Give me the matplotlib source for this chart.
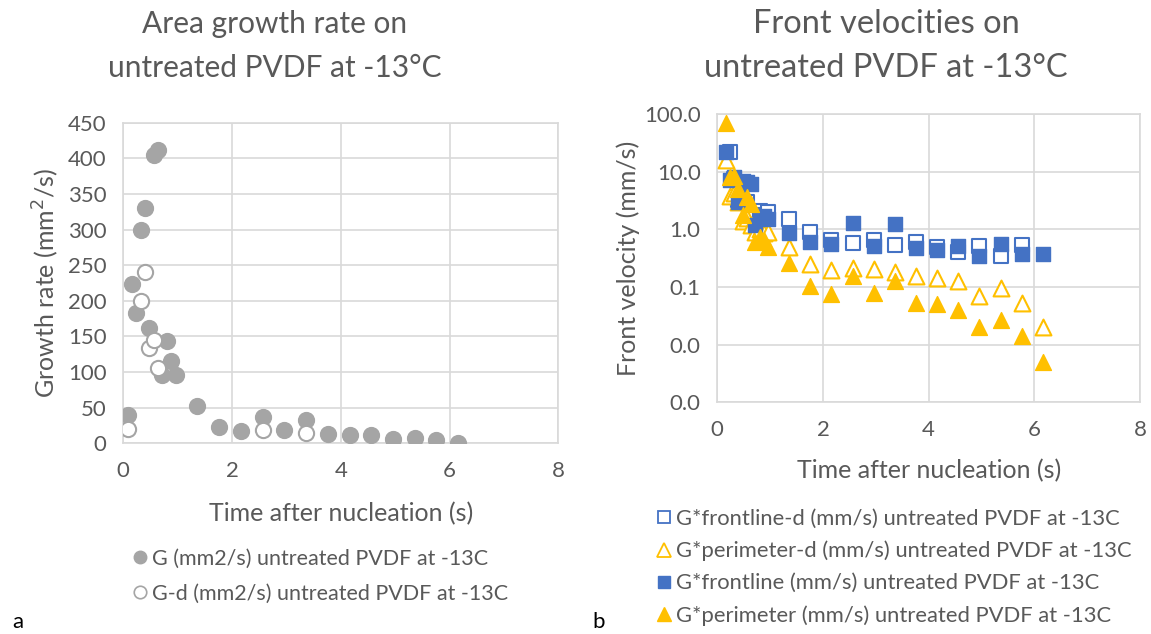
import matplotlib
matplotlib.use("Agg")
import matplotlib.pyplot as plt
from matplotlib.ticker import FixedLocator, FuncFormatter, NullLocator
from matplotlib.lines import Line2D

plt.rcParams['font.family'] = ['Lato', 'DejaVu Sans']

# ---------------- data: panel a ----------------
t_G = [0.08, 0.16, 0.24, 0.32, 0.40, 0.48, 0.56, 0.64, 0.72, 0.80, 0.88, 0.96,
       1.36, 1.76, 2.16, 2.56, 2.96, 3.36, 3.76, 4.16, 4.56, 4.96, 5.36, 5.76, 6.16]
G = [40, 224, 183, 300, 330, 162, 405, 412, 96, 143, 115, 96,
     52, 23, 17, 37, 18, 33, 13, 12, 11, 6, 7, 4, 1]
t_Gd = [0.08, 0.32, 0.40, 0.48, 0.56, 0.64, 2.56, 3.36]
Gd = [20, 200, 240, 134, 145, 105, 18, 15]

# ---------------- data: panel b ----------------
t_fd = [0.24, 0.32, 0.40, 0.48, 0.56, 0.64, 0.72, 0.80, 0.88, 0.96,
        1.36, 1.76, 2.16, 2.56, 2.96, 3.36, 3.76, 4.16, 4.56, 4.96, 5.36, 5.76]
front_d = [22, 7.5, 3.2, 6.0, 3.0, 2.0, 1.9, 2.1, 1.8, 2.0,
           1.5, 0.89, 0.64, 0.57, 0.65, 0.53, 0.61, 0.50, 0.41, 0.52, 0.34, 0.54]
t_pd = [0.16, 0.24, 0.32, 0.40, 0.48, 0.56, 0.64, 0.72, 0.80, 0.88, 0.96,
        1.36, 1.76, 2.16, 2.56, 2.96, 3.36, 3.76, 4.16, 4.56, 4.96, 5.36, 5.76, 6.16]
perim_d = [16, 3.8, 4.2, 3.0, 1.4, 1.6, 1.2, 0.9, 1.0, 0.85, 0.9,
           0.49, 0.25, 0.20, 0.21, 0.205, 0.185, 0.158, 0.145, 0.129, 0.071, 0.095, 0.052, 0.020]
t_f = [0.16, 0.24, 0.32, 0.40, 0.48, 0.56, 0.64, 0.72, 0.80, 0.88, 0.96,
       1.36, 1.76, 2.16, 2.56, 2.96, 3.36, 3.76, 4.16, 4.56, 4.96, 5.36, 5.76, 6.16]
front = [22, 7.2, 8.0, 3.0, 6.8, 6.5, 6.2, 1.2, 1.6, 1.7, 1.5,
         0.86, 0.61, 0.56, 1.31, 0.51, 1.25, 0.48, 0.43, 0.52, 0.34, 0.56, 0.37, 0.38]
t_p = [0.16, 0.24, 0.32, 0.40, 0.48, 0.56, 0.64, 0.72, 0.80, 0.88, 0.96,
       1.36, 1.76, 2.16, 2.56, 2.96, 3.36, 3.76, 4.16, 4.56, 4.96, 5.36, 5.76, 6.16]
perim = [70, 8.0, 8.5, 5.0, 1.8, 3.6, 2.8, 0.6, 0.75, 0.65, 0.5,
         0.265, 0.104, 0.076, 0.157, 0.078, 0.125, 0.052, 0.05, 0.040, 0.0205, 0.027, 0.014, 0.005]

ytick_a = [0, 50, 100, 150, 200, 250, 300, 350, 400, 450]
ytick_b = [0.001, 0.01, 0.1, 1, 10, 100]
xticks = [0, 2, 4, 6, 8]

GRAY = '#A5A5A5'
BLUE = '#4472C4'
GOLD = '#FFC000'
TXT = '#595959'
GRID = '#D9D9D9'

W, H = 1151, 634
fig = plt.figure(figsize=(W / 100, H / 100), dpi=100)


def frac(x0, y0, x1, y1):
    return [x0 / W, 1 - y1 / H, (x1 - x0) / W, (y1 - y0) / H]


def style(ax):
    for s in ax.spines.values():
        s.set_color(GRID)
        s.set_linewidth(1.2)
    ax.grid(True, color=GRID, linewidth=1.2)
    ax.set_axisbelow(True)
    ax.tick_params(length=0, labelsize=16, colors=TXT)
    ax.tick_params(axis='x', pad=13)
    ax.tick_params(axis='y', pad=12)


def labels(ax, xl, yl, xlab_y, ylab_x):
    ax.set_xlabel(xl, fontsize=18, color=TXT)
    ax.set_ylabel(yl, fontsize=18, color=TXT)
    ax.xaxis.set_label_coords(0.5, xlab_y)
    ax.yaxis.set_label_coords(ylab_x, 0.5)
    ax.xaxis.label.set_va('center')
    ax.yaxis.label.set_va('center')


# ---------------- panel a ----------------
ax1 = fig.add_axes(frac(123.3, 122.7, 558.3, 443.3))
style(ax1)
ax1.scatter(t_G, G, s=130, color=GRAY, edgecolor=GRAY, zorder=3)
ax1.scatter(t_Gd, Gd, s=120, facecolor='white', edgecolor=GRAY, linewidth=1.5, zorder=4)
ax1.set_xlim(0, 8)
ax1.set_ylim(0, 450)
ax1.set_xticks(xticks)
ax1.set_yticks(ytick_a)
labels(ax1, 'Time after nucleation (s)', 'Growth rate (mm$^2$/s)',
       (443.3 - 514) / 320.6, (46 - 123.3) / 435)
fig.text(275 / W, 1 - 46 / H, 'Area growth rate on\nuntreated PVDF at -13°C',
         ha='center', va='center', fontsize=21.5, color=TXT, linespacing=1.7)

h1 = [Line2D([], [], marker='o', ls='none', color=GRAY, markersize=9),
      Line2D([], [], marker='o', ls='none', markerfacecolor='white',
             markeredgecolor=GRAY, markersize=9, markeredgewidth=1.2)]
fig.legend(h1, ['G (mm2/s) untreated PVDF at -13C', 'G-d (mm2/s) untreated PVDF at -13C'],
           loc='upper left', bbox_to_anchor=(123 / W, 1 - 538 / H), frameon=False,
           fontsize=15.5, labelcolor=TXT, handlelength=0.6, handletextpad=0.25,
           labelspacing=0.68, borderpad=0)

# ---------------- panel b ----------------
ax2 = fig.add_axes(frac(717.3, 114, 1140.1, 402.3))
style(ax2)
ax2.set_yscale('log')
ax2.scatter(t_fd, front_d, marker='s', s=110, facecolor='white', edgecolor=BLUE, linewidth=1.5, zorder=3)
ax2.scatter(t_pd, perim_d, marker='^', s=130, facecolor='white', edgecolor=GOLD, linewidth=1.5, zorder=4)
ax2.scatter(t_f, front, marker='s', s=110, color=BLUE, edgecolor=BLUE, zorder=5)
ax2.scatter(t_p, perim, marker='^', s=130, color=GOLD, edgecolor=GOLD, zorder=6)
ax2.set_xlim(0, 8)
ax2.set_ylim(0.001, 100)
ax2.set_xticks(xticks)
ax2.yaxis.set_major_locator(FixedLocator(ytick_b))
ax2.yaxis.set_minor_locator(NullLocator())
ax2.yaxis.set_major_formatter(FuncFormatter(lambda v, p: f'{v:.1f}'))
labels(ax2, 'Time after nucleation (s)', 'Front velocity (mm/s)',
       (402.3 - 471) / 288.3, (628 - 717.3) / 422.8)
fig.text(886 / W, 1 - 46 / H, 'Front velocities on\nuntreated PVDF at -13°C',
         ha='center', va='center', fontsize=23.5, color=TXT, linespacing=1.55)

h2 = [Line2D([], [], marker='s', ls='none', markerfacecolor='white', markeredgecolor=BLUE,
             markersize=9, markeredgewidth=1.3),
      Line2D([], [], marker='^', ls='none', markerfacecolor='white', markeredgecolor=GOLD,
             markersize=10, markeredgewidth=1.3),
      Line2D([], [], marker='s', ls='none', color=BLUE, markersize=9),
      Line2D([], [], marker='^', ls='none', color=GOLD, markersize=10)]
fig.legend(h2, ['G*frontline-d (mm/s) untreated PVDF at -13C',
                'G*perimeter-d (mm/s) untreated PVDF at -13C',
                'G*frontline (mm/s) untreated PVDF at -13C',
                'G*perimeter (mm/s) untreated PVDF at -13C'],
           loc='upper left', bbox_to_anchor=(646 / W, 1 - 498 / H), frameon=False,
           fontsize=15.8, labelcolor=TXT, handlelength=0.6, handletextpad=0.25,
           labelspacing=0.54, borderpad=0)

fig.text(12 / W, 1 - 622 / H, 'a', fontsize=16, color='black', ha='left', va='center')
fig.text(592 / W, 1 - 622 / H, 'b', fontsize=16, color='black', ha='left', va='center')

fig.savefig('out.png', dpi=100)
